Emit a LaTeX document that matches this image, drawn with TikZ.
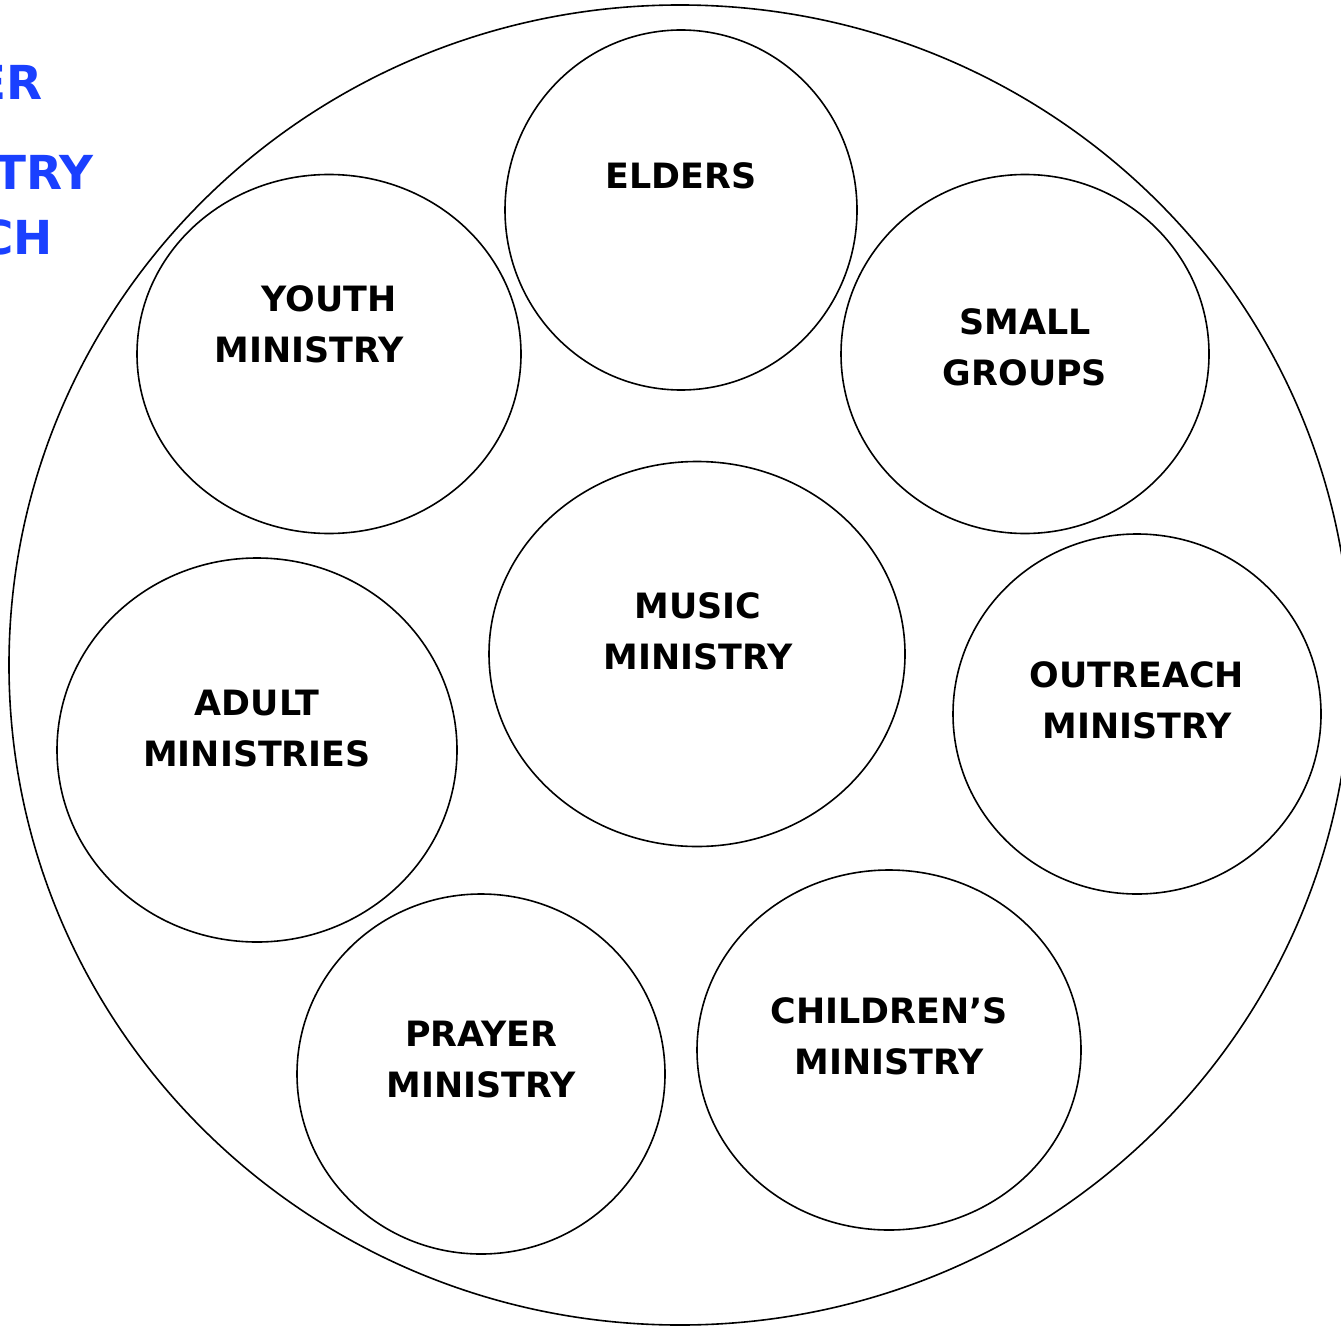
\documentclass[tikz,border=0pt]{standalone}
\usepackage{fontspec}
\setmainfont{DejaVu Sans}
\usetikzlibrary{shapes.geometric}
\definecolor{titleblue}{RGB}{26,64,255}
\tikzset{
  ring/.style={draw=black, line width=1.6bp, ellipse, inner sep=0pt, outer sep=0pt},
  label/.style={font={\bfseries\fontsize{35}{51.2}\selectfont}, align=center, inner sep=0pt, text=black},
  titletext/.style={font={\bfseries\fontsize{47}{56}\selectfont}, text=titleblue, inner sep=0pt, anchor=base east}
}
\begin{document}
\begin{tikzpicture}[x=1bp,y=-1bp]
\useasboundingbox (0,0) rectangle (1341,1326);
\clip (0,0) rectangle (1341,1326);
\fill[white] (0,0) rectangle (1341,1326);
% blue cut-off title (cut off at the left edge, as in the reference)
\node[titletext] (t1) at (43,100) {ER};
\node[titletext] (t2) at (94,190) {TRY};
\node[titletext] (t3) at (53,255) {CH};
% outer circle
\node[ring, minimum width=1342bp, minimum height=1320bp] (outer) at (680,665) {};
% inner circles
\node[ring, minimum width=352bp, minimum height=360bp] (elders) at (681,210) {};
\node[ring, minimum width=384bp, minimum height=359bp] (youth) at (329,354) {};
\node[ring, minimum width=368bp, minimum height=359bp] (small) at (1025,354) {};
\node[ring, minimum width=416bp, minimum height=385bp] (music) at (697,654) {};
\node[ring, minimum width=400bp, minimum height=384bp] (adult) at (257,750) {};
\node[ring, minimum width=368bp, minimum height=360bp] (outreach) at (1137,714) {};
\node[ring, minimum width=368bp, minimum height=360bp] (prayer) at (481,1074) {};
\node[ring, minimum width=384bp, minimum height=360bp] (children) at (889,1050) {};
% labels
\node[label] (lelders) at (681,176) {ELDERS};
\node[label] (lyouth) at (309,324.5) {\hspace*{40bp}YOUTH\\MINISTRY};
\node[label] (lsmall) at (1025,347.5) {SMALL\\GROUPS};
\node[label] (lmusic) at (698,631.5) {MUSIC\\MINISTRY};
\node[label] (ladult) at (257,728.5) {ADULT\\MINISTRIES};
\node[label] (loutreach) at (1137,700) {OUTREACH\\MINISTRY};
\node[label] (lprayer) at (481,1059.5) {PRAYER\\MINISTRY};
\node[label] (lchildren) at (889,1036) {CHILDREN’S\\MINISTRY};
\end{tikzpicture}
\end{document}
